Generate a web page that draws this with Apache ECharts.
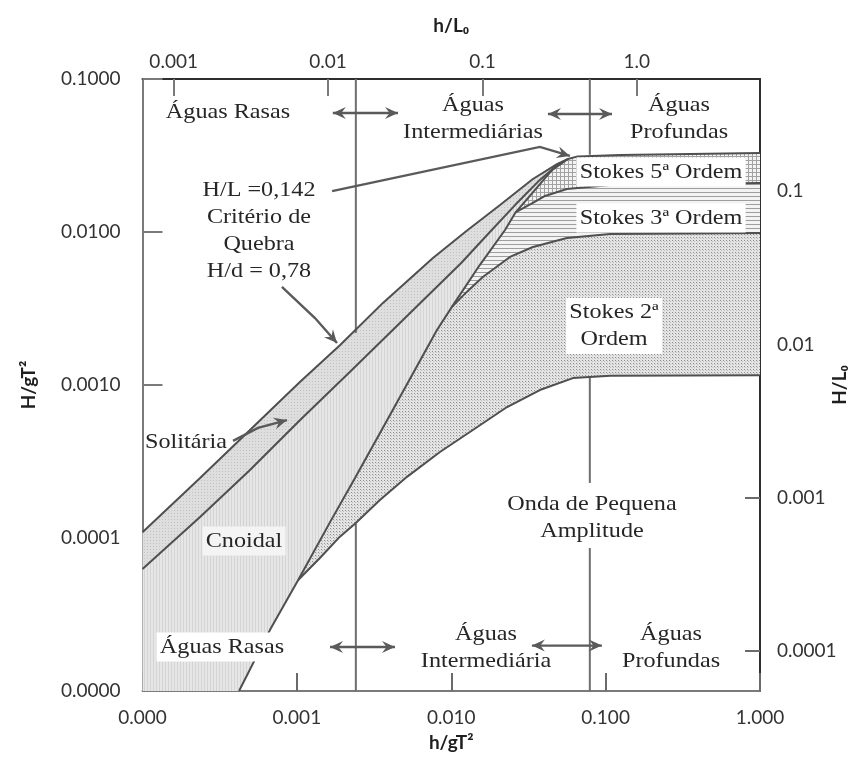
<!DOCTYPE html>
<html>
<head>
<meta charset="utf-8">
<script src="https://cdn.jsdelivr.net/npm/echarts@6/dist/echarts.min.js"></script>
<style>
  html, body { margin: 0; padding: 0; background: #ffffff; }
  #chart { width: 850px; height: 765px; }
</style>
</head>
<body>
<div id="chart"></div>
<script>
// Regime boundaries, as [h/gT², H/gT²] pairs
const breakingLimit = [[1.0e-4,1.09e-4],[2.36e-4,2.47e-4],[4.97e-4,5.08e-4],[1.05e-3,1.05e-3],[1.90e-3,1.82e-3],[3.61e-3,3.44e-3],[7.61e-3,6.76e-3],[1.26e-2,1.02e-2],[2.07e-2,1.50e-2],[3.38e-2,2.22e-2],[4.84e-2,2.78e-2],[5.70e-2,3.00e-2],[6.6e-2,3.12e-2],[0.124,3.19e-2],[1.0,3.28e-2]];
const solitaryLimit = [[1.0e-4,6.27e-5],[2.36e-4,1.37e-4],[4.97e-4,2.78e-4],[1.05e-3,5.90e-4],[2.21e-3,1.22e-3],[4.65e-3,2.54e-3],[1.16e-2,6.27e-3],[1.78e-2,1.0e-2],[2.59e-2,1.50e-2],[3.75e-2,2.19e-2],[5.06e-2,2.83e-2]];
const cnoidalLimit = [[4.22e-4,1.0e-5],[6.70e-4,2.51e-5],[1.02e-3,5.31e-5],[1.64e-3,1.27e-4],[2.38e-3,2.47e-4],[4.01e-3,6.37e-4],[8.08e-3,2.29e-3],[1.01e-2,3.24e-3],[1.53e-2,6.08e-3],[2.23e-2,1.03e-2],[2.62e-2,1.35e-2],[3.23e-2,1.72e-2],[4.49e-2,2.54e-2],[5.70e-2,3.00e-2]];
const linearLimit = [[1.02e-3,5.31e-5],[1.41e-3,7.40e-5],[1.90e-3,1.02e-4],[2.38e-3,1.24e-4],[3.45e-3,1.77e-4],[5.17e-3,2.51e-4],[8.45e-3,3.65e-4],[1.38e-2,5.08e-4],[2.30e-2,7.18e-4],[3.75e-2,9.27e-4],[6.14e-2,1.11e-3],[0.107,1.15e-3],[1.0,1.16e-3]];
const stokes2Limit = [[1.01e-2,3.24e-3],[1.26e-2,4.06e-3],[1.60e-2,5.08e-3],[2.40e-2,6.87e-3],[3.38e-2,7.98e-3],[5.61e-2,9.14e-3],[0.107,9.70e-3],[1.0,9.85e-3]];
const stokes3Limit = [[2.62e-2,1.35e-2],[3.38e-2,1.55e-2],[4.05e-2,1.72e-2],[5.61e-2,1.91e-2],[0.107,2.03e-2],[1.0,2.09e-2]];

// Depth limits (shallow / deep water) in h/gT², drawn as interrupted verticals
const shallowLimitX = 2.41e-3;
const deepLimitX = 7.9e-2;
const depthLimitSegments = [
  [[shallowLimitX, 0.1], [shallowLimitX, 2.19e-3]],
  [[shallowLimitX, 1.24e-4], [shallowLimitX, 1.0e-5]],
  [[deepLimitX, 0.1], [deepLimitX, 3.2e-2]],
  [[deepLimitX, 1.12e-3], [deepLimitX, 2.29e-4]],
  [[deepLimitX, 8.61e-5], [deepLimitX, 1.0e-5]]
];

// Tick labels
const topTickValues = [0.001, 0.01, 0.1, 1];
const topTickLabels = ['0.001', '0.01', '0.1', '1.0'];
const rightTickValues = [0.0001, 0.001, 0.01, 0.1];
const rightTickLabels = ['0.0001', '0.001', '0.01', '0.1'];

// Annotation arrows (paths in data coordinates)
const annotationArrows = [
  { path: [[1.71e-3, 0.060], [4.52e-3, 0.060]], both: true },
  { path: [[4.23e-2, 0.059], [0.110, 0.059]], both: true },
  { path: [[1.64e-3, 1.94e-5], [4.32e-3, 1.94e-5]], both: true },
  { path: [[3.33e-2, 1.98e-5], [9.46e-2, 1.98e-5]], both: true },
  { path: [[1.69e-3, 1.85e-2], [3.75e-2, 3.60e-2], [5.87e-2, 3.14e-2]] },
  { path: [[8.0e-4, 4.38e-3], [1.31e-3, 2.74e-3], [1.82e-3, 1.88e-3]] },
  { path: [[3.86e-4, 4.31e-4], [5.60e-4, 5.24e-4], [8.63e-4, 5.90e-4]] }
];

// Tiled fill textures for each regime
function texture(w, h, bg, draw) {
  const c = document.createElement('canvas');
  c.width = w; c.height = h;
  const g = c.getContext('2d');
  g.fillStyle = bg; g.fillRect(0, 0, w, h);
  draw(g);
  return { image: c, repeat: 'repeat' };
}
const solitaryFill = texture(3, 3, '#dedede', g => { g.fillStyle = '#c2c2c2'; g.fillRect(0, 0, 1, 1); });
const cnoidalFill = texture(3, 3, '#e6e6e6', g => { g.fillStyle = '#d4d4d4'; g.fillRect(0, 0, 1, 3); });
const stokes2Fill = texture(3, 3, '#e4e4e4', g => { g.fillStyle = '#8e8e8e'; g.fillRect(0, 0, 1, 1); g.fillStyle = '#bdbdbd'; g.fillRect(1, 1, 1, 1); });
const stokes3Fill = texture(4, 4, '#f3f3f3', g => { g.fillStyle = '#9e9e9e'; g.fillRect(0, 0, 4, 1); });
const stokes5Fill = texture(4, 4, '#f3f3f3', g => { g.fillStyle = '#a2a2a2'; g.fillRect(0, 0, 4, 1); g.fillRect(0, 0, 1, 4); });

const rev = a => a.slice().reverse();
const xMin = 1e-4, xMax = 1, yMin = 1e-5, yMax = 0.1;
const iS2 = 7, iS3 = 10; // junction indices along cnoidalLimit

const regions = [
  { fill: cnoidalFill, poly: [[xMin, yMin]].concat(solitaryLimit, rev(cnoidalLimit)) },
  { fill: solitaryFill, poly: breakingLimit.slice(0, 12).concat(rev(solitaryLimit)) },
  { fill: stokes2Fill, poly: cnoidalLimit.slice(2, iS2 + 1).concat(stokes2Limit, rev(linearLimit)) },
  { fill: stokes3Fill, poly: cnoidalLimit.slice(iS2, iS3 + 1).concat(stokes3Limit, rev(stokes2Limit)) },
  { fill: stokes5Fill, poly: cnoidalLimit.slice(iS3).concat(breakingLimit.slice(12), rev(stokes3Limit)) }
];

const curveStyle = { color: '#4f4f4f', width: 2 };
function curve(data) {
  return { type: 'line', data: data, showSymbol: false, symbol: 'none', silent: true,
           lineStyle: curveStyle, z: 4, animation: false };
}

const serif = '"Liberation Serif", "Times New Roman", serif';
function label(text, x, y, opts) {
  opts = opts || {};
  return {
    type: 'text', x: x, y: y, scaleX: 1.1, z: 50, silent: true,
    style: {
      text: text, font: '22px ' + serif, fill: '#262626',
      align: opts.align || 'center', verticalAlign: 'middle', lineHeight: 27,
      backgroundColor: opts.bg || null, padding: opts.bg ? [1, 3, 1, 3] : 0
    }
  };
}

const chart = echarts.init(document.getElementById('chart'), null, { renderer: 'canvas' });
const sans = 'Lato';

chart.setOption({
  animation: false,
  backgroundColor: '#ffffff',
  grid: { left: 142.5, right: 90, top: 79, bottom: 74, containLabel: false, outerBoundsMode: 'none' },
  xAxis: [
    {
      type: 'log', logBase: 10, min: xMin, max: xMax, position: 'bottom',
      name: 'h/gT²', nameLocation: 'middle', nameGap: 42,
      nameTextStyle: { fontFamily: sans, fontWeight: 'bold', fontSize: 19, color: '#1e1e1e' },
      axisLine: { show: true, lineStyle: { color: '#7a7a7a', width: 2 } },
      axisTick: { show: true, inside: true, length: 18, lineStyle: { color: '#6a6a6a', width: 2 } },
      axisLabel: { fontFamily: sans, fontSize: 19, color: '#333', margin: 17, showMinLabel: true, showMaxLabel: true,
                   formatter: v => Number(v).toFixed(3) },
      splitLine: { show: false }, minorTick: { show: false }
    },
    {
      type: 'log', logBase: 10, min: 2 * Math.PI * xMin, max: 2 * Math.PI * xMax, position: 'top',
      name: 'h/L₀', nameLocation: 'middle', nameGap: 44,
      nameTextStyle: { fontFamily: sans, fontWeight: 'bold', fontSize: 19, color: '#1e1e1e' },
      axisLine: { show: true, lineStyle: { color: '#2e2e2e', width: 2 } },
      axisTick: { show: true, inside: true, length: 17, customValues: topTickValues, lineStyle: { color: '#7a7a7a', width: 2 } },
      axisLabel: { fontFamily: sans, fontSize: 19, color: '#333', margin: 8, customValues: topTickValues,
                   formatter: v => { const i = topTickValues.findIndex(t => Math.abs(Math.log10(t) - Math.log10(v)) < 1e-6); return i >= 0 ? topTickLabels[i] : ''; } },
      splitLine: { show: false }
    }
  ],
  yAxis: [
    {
      type: 'log', logBase: 10, min: yMin, max: yMax, position: 'left',
      name: 'H/gT²', nameLocation: 'middle', nameGap: 104, nameRotate: 90,
      nameTextStyle: { fontFamily: sans, fontWeight: 'bold', fontSize: 19, color: '#1e1e1e' },
      axisLine: { show: true, lineStyle: { color: '#7a7a7a', width: 2 } },
      axisTick: { show: true, inside: true, length: 20, lineStyle: { color: '#7a7a7a', width: 2 } },
      axisLabel: { fontFamily: sans, fontSize: 19, color: '#333', margin: 22, showMinLabel: true, showMaxLabel: true,
                   formatter: v => Number(v).toFixed(4) },
      splitLine: { show: false }
    },
    {
      type: 'log', logBase: 10, min: 5.5e-5, max: 0.54, position: 'right',
      name: 'H/L₀', nameLocation: 'middle', nameGap: 70, nameRotate: 90, nameMoveOverlap: false,
      nameTextStyle: { fontFamily: sans, fontWeight: 'bold', fontSize: 19, color: '#1e1e1e' },
      axisLine: { show: true, lineStyle: { color: '#2e2e2e', width: 2 } },
      axisTick: { show: true, inside: true, length: 15, customValues: rightTickValues, lineStyle: { color: '#6a6a6a', width: 2 } },
      axisLabel: { fontFamily: sans, fontSize: 19, color: '#333', margin: 17, customValues: rightTickValues,
                   formatter: v => { const i = rightTickValues.findIndex(t => Math.abs(Math.log10(t) - Math.log10(v)) < 1e-6); return i >= 0 ? rightTickLabels[i] : ''; } },
      splitLine: { show: false }
    }
  ],
  series: [
    {
      type: 'custom', coordinateSystem: 'cartesian2d', xAxisIndex: 0, yAxisIndex: 0, z: 1, silent: true,
      data: regions.map(r => r.poly[1]),
      renderItem: (params, api) => {
        const r = regions[params.dataIndex];
        return { type: 'polygon', shape: { points: r.poly.map(p => api.coord(p)) }, style: { fill: r.fill, stroke: null } };
      }
    },
    ...depthLimitSegments.map(seg => ({
      type: 'line', data: seg, showSymbol: false, symbol: 'none', silent: true, z: 3,
      lineStyle: { color: '#6e6e6e', width: 2 }
    })),
    curve(breakingLimit),
    curve(solitaryLimit),
    curve(cnoidalLimit),
    curve(linearLimit),
    curve(stokes2Limit),
    curve(stokes3Limit),
    {
      type: 'custom', coordinateSystem: 'cartesian2d', xAxisIndex: 0, yAxisIndex: 0, z: 6, silent: true,
      data: annotationArrows.map(a => a.path[0]),
      renderItem: (params, api) => {
        const a = annotationArrows[params.dataIndex];
        const pts = a.path.map(p => api.coord(p));
        const col = '#5a5a5a';
        const head = (tip, from) => {
          const dx = tip[0] - from[0], dy = tip[1] - from[1], L = Math.hypot(dx, dy);
          const ux = dx / L, uy = dy / L, len = 13, half = 6;
          const bx = tip[0] - ux * len, by = tip[1] - uy * len;
          return { type: 'polygon', shape: { points: [tip, [bx - uy * half, by + ux * half],
                   [tip[0] - ux * len * 0.65, tip[1] - uy * len * 0.65], [bx + uy * half, by - ux * half]] },
                   style: { fill: col } };
        };
        const children = [{ type: 'polyline', shape: { points: pts }, style: { stroke: col, lineWidth: 2.4, fill: null } }];
        children.push(head(pts[pts.length - 1], pts[pts.length - 2]));
        if (a.both) children.push(head(pts[0], pts[1]));
        return { type: 'group', children: children };
      }
    }
  ],
  graphic: [
    label('Águas Rasas', 228, 112),
    label('Águas\nIntermediárias', 473, 119),
    label('Águas\nProfundas', 679, 119),
    label('H/L =0,142\nCritério de\nQuebra\nH/d = 0,78', 259, 231),
    label('Solitária', 186, 442),
    label('Cnoidal', 244, 541, { bg: '#f4f4f4' }),
    label('Águas Rasas', 222, 647, { bg: '#ffffff' }),
    label('Águas\nIntermediária', 486, 648),
    label('Águas\nProfundas', 671, 648),
    label('Stokes 5ª Ordem', 661, 172, { bg: '#ffffff' }),
    label('Stokes 3ª Ordem', 661, 218, { bg: '#ffffff' }),
    label('Stokes 2ª\nOrdem', 614, 326, { bg: '#ffffff' }),
    label('Onda de Pequena\nAmplitude', 592, 518)
  ]
});
</script>
</body>
</html>
